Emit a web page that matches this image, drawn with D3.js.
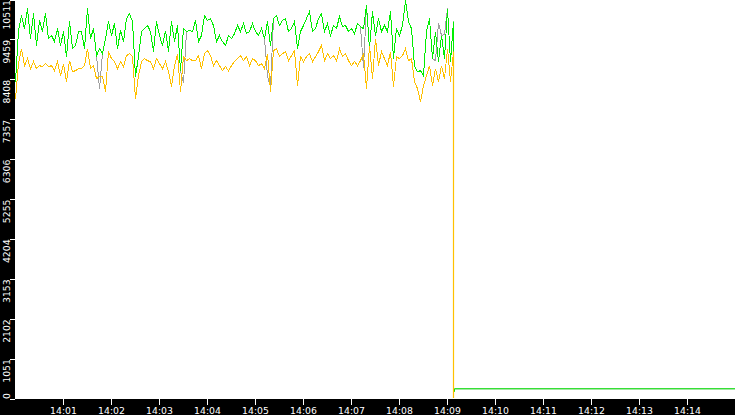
<!DOCTYPE html>
<html><head><meta charset="utf-8">
<script src="https://cdn.jsdelivr.net/npm/d3@7/dist/d3.min.js"></script>
<style>html,body{margin:0;padding:0;background:#000;overflow:hidden}</style>
</head><body>
<svg id="c" width="735" height="415"></svg>
<script>
// sampling: one reading every 3.75 s starting 14:00:00
const sampleStepSeconds = 3.75;
const greenValues = [
8346,9692,10089,9745,10273,9481,10141,9296,9957,9666,
10141,9481,9560,9402,9745,9296,9666,9006,9930,9217,
9296,9666,9666,9217,10273,9481,9745,9032,9217,9085,
9481,9930,9560,9877,9217,9692,9402,10009,10141,9930,
8478,9006,9666,9745,9825,9666,9138,9930,9560,9296,
9692,9138,9930,9402,9825,8636,9745,9666,9692,9666,
9957,9402,9560,10089,9957,10009,9825,9402,9560,9402,
9296,9560,9481,9613,
9825,9666,9877,9613,9666,9877,9666,9560,9745,9481,
9930,9296,10009,10089,9825,9957,10009,9666,9745,9930,
9217,9666,9825,10009,10194,9666,9745,10009,10141,9666,
9877,9560,9825,9745,10062,9798,9825,9666,9745,9613,
9877,9798,9745,10353,9217,10194,9560,10009,9666,9825,
9666,10194,8953,9745,9560,9825,10485,9930,9745,8768,
8610,8636,8504,9666,10009,8953,9666,8874,9560,8953,
10273,8874,9930];
const grayValues = [
8346,9692,10089,9745,10273,9481,10141,9296,9957,9666,
10141,9481,9560,9402,9745,9296,9666,9006,9930,9217,
9296,9666,9666,9217,10273,9481,9745,9032,8161,9085,
9481,9930,9560,9877,9217,9692,9402,10009,10141,9930,
8478,9006,9666,9745,9825,9666,9138,9930,9560,9296,
9692,9138,9930,9402,9825,8636,8300,9666,9692,9666,
9957,9402,9560,10089,9957,10009,9825,9402,9560,9402,
9296,9560,9481,9613,
9825,9666,9877,9613,9666,9877,9666,9560,9745,9481,
8500,8200,10009,10089,9825,9957,10009,9666,9745,9930,
9217,9666,9825,10009,10194,9666,9745,10009,10141,9666,
9877,9560,9825,9745,10062,9798,9825,9666,9745,9613,
9877,9798,8700,10353,9217,10194,9560,10009,9666,9825,
9666,10194,8953,9745,9560,9825,10485,9930,9745,8768,
8610,8636,8504,9666,10009,8953,8900,9900,9560,9600,
10273,8874,9930];
const orangeValues = [
7897,8821,9217,8768,8953,8689,8874,8689,8768,8742,
8821,8742,8768,8636,8874,8504,8821,8346,8900,8610,
8636,8689,8689,8768,9217,8689,8768,8425,8478,8478,
8081,9138,8953,8874,8689,8874,8742,9032,9085,9006,
7897,8504,8874,8953,8900,8874,8689,8953,8821,8689,
8874,8610,8214,8768,9085,8081,9006,8900,8953,8900,
8900,9032,8689,9085,9164,9032,8768,8900,8768,8636,
8742,8636,8768,8874,
8953,9032,8900,9006,8768,8953,8900,8768,8821,8689,
9085,8081,9164,9217,9006,9085,9138,8900,9032,9164,
8240,9006,8874,9006,9085,8874,9006,9138,9296,8900,
9085,8953,9032,8900,9217,9006,9085,8900,8768,8874,
8768,8900,9085,8161,9296,8425,9481,8768,9138,8953,
8768,9138,8214,9006,8953,9032,9217,8900,8953,8346,
8161,7817,8240,8504,8768,8240,8689,8346,8768,8425,
9217,8346,9138];
// after the drop (seconds after 14:00:00)
const greenTailSeconds = [547.5, 548.75, 548.75, 900];
const greenTail  = [185, 185, 256, 256];
const grayTail   = [185, 185, 256, 256];
const orangeTailSeconds = [547.5, 900];
const orangeTail = [0, 0];

const xTickLabels = ["14:01","14:02","14:03","14:04","14:05","14:06","14:07","14:08","14:09","14:10","14:11","14:12","14:13","14:14"];
const yTickLabels = ["0","1051","2102","3153","4204","5255","6306","7357","8408","9459","10511"];
const yMax = 10511;

const W = 735, H = 415, left = 15, bottom = 399;
const t0 = new Date(2024,0,1,14,0,0);
const sec = s => new Date(t0.getTime() + s*1000);

const x = d3.scaleTime().domain([t0, sec(900)]).range([left, W]);
const y = d3.scaleLinear().domain([0, yMax]).range([398.5, -0.5]);

function mainPts(vals){ return vals.map((v,i)=>({t:sec(i*sampleStepSeconds), v})); }
function tailPts(vals, tailT, tail){
  const last = vals.length-1;
  const pts = [{t:sec(last*sampleStepSeconds), v:vals[last]}];
  tail.forEach((v,i)=>pts.push({t:sec(tailT[i]), v}));
  return pts;
}

const svg = d3.select("#c");
svg.append("rect").attr("width",W).attr("height",H).attr("fill","#000");
svg.append("rect").attr("x",left).attr("y",0).attr("width",W-left).attr("height",bottom).attr("fill","#fff");
svg.append("clipPath").attr("id","clip").append("rect").attr("x",left).attr("y",0).attr("width",W-left).attr("height",bottom-1);

const line = d3.line().x(d=>x(d.t)+0.5).y(d=>y(d.v));
const g = svg.append("g").attr("clip-path","url(#clip)");
[[grayValues,greenTailSeconds,grayTail,"#a0a0a0",1],
 [greenValues,greenTailSeconds,greenTail,"#00ee00",1],
 [orangeValues,orangeTailSeconds,orangeTail,"#ffc000",1.2]].forEach(([v,tt,t,c,tw])=>{
  g.append("path").datum(mainPts(v)).attr("d",line).attr("fill","none")
   .attr("stroke",c).attr("stroke-width",1).attr("shape-rendering","crispEdges");
  g.append("path").datum(tailPts(v,tt,t)).attr("d",line).attr("fill","none")
   .attr("stroke",c).attr("stroke-width",tw);
});

const parseHM = d3.timeParse("%H:%M");
const xTicks = xTickLabels.map(s=>{const p=parseHM(s);return new Date(2024,0,1,p.getHours(),p.getMinutes(),0);});
const xa = svg.append("g").attr("transform",`translate(0,${bottom})`)
  .call(d3.axisBottom(x).tickValues(xTicks).tickSize(6).tickFormat((d,i)=>xTickLabels[i]));
xa.select(".domain").remove();
xa.selectAll("line").attr("stroke","#fff").attr("shape-rendering","crispEdges");
xa.selectAll("text").attr("fill","#fff").attr("y",14.5).attr("dy",0)
  .attr("font-family","DejaVu Sans").attr("font-size","9.3px");

const yTicks = yTickLabels.map((s,i)=>i*yMax/10);
const ya = svg.append("g").attr("transform",`translate(${left},0)`)
  .call(d3.axisLeft(y).tickValues(yTicks).tickSize(5).tickFormat((d,i)=>yTickLabels[i]));
ya.select(".domain").remove();
ya.selectAll("line").attr("stroke","#fff").attr("shape-rendering","crispEdges");
ya.selectAll("text").attr("fill","#fff").attr("transform","rotate(-90)")
  .attr("x",0).attr("y",-5.5).attr("dy",0)
  .attr("text-anchor",(d,i)=> i===0 ? "start" : "end")
  .attr("font-family","DejaVu Sans").attr("font-size","9.3px");
</script>
</body></html>
